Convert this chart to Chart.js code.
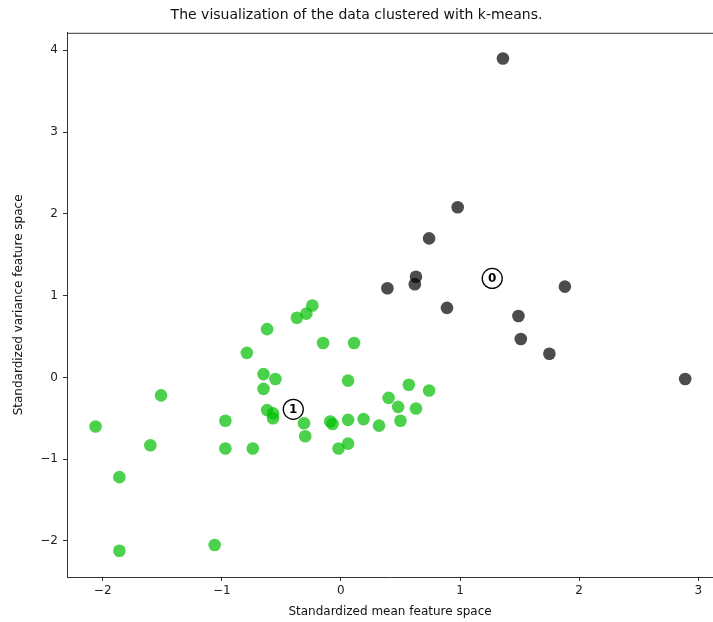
<!DOCTYPE html>
<html>
<head>
<meta charset="utf-8">
<script src="https://cdn.jsdelivr.net/npm/chart.js@4.4.1/dist/chart.umd.min.js"></script>
<style>
  html, body { margin: 0; padding: 0; background: #fff; overflow: hidden; }
  #wrap { width: 713px; height: 622px; }
</style>
</head>
<body>
<div id="wrap"><canvas id="myChart"></canvas></div>
<script>
// cluster 1 (green)
const greenX = [-2.06, -1.86, -1.86, -1.60, -1.51, -1.06, -0.97, -0.97, -0.74, -0.79,
                -0.62, -0.65, -0.65, -0.55, -0.62, -0.57, -0.57, -0.37, -0.29, -0.24,
                -0.15, 0.11, -0.31, -0.30, -0.09, -0.07, 0.06, 0.06, -0.02, 0.06,
                0.19, 0.32, 0.40, 0.57, 0.74, 0.48, 0.63, 0.50];
const greenY = [-0.60, -1.22, -2.12, -0.83, -0.22, -2.05, -0.53, -0.87, -0.87, 0.30,
                0.59, 0.04, -0.14, -0.02, -0.40, -0.44, -0.50, 0.73, 0.78, 0.88,
                0.42, 0.42, -0.56, -0.72, -0.54, -0.57, -0.04, -0.52, -0.87, -0.81,
                -0.51, -0.59, -0.25, -0.09, -0.16, -0.36, -0.38, -0.53];

// cluster 0 (dark)
const darkX = [1.36, 0.98, 0.74, 0.63, 0.62, 0.39, 0.89, 1.88, 1.49, 1.51, 1.75, 2.89];
const darkY = [3.90, 2.08, 1.70, 1.23, 1.14, 1.09, 0.85, 1.11, 0.75, 0.47, 0.29, -0.02];

// cluster centers
const centerX = [1.27, -0.40];
const centerY = [1.21, -0.39];
const centerLabels = ["0", "1"];

const xTicks = [-2, -1, 0, 1, 2, 3];
const yTicks = [-2, -1, 0, 1, 2, 3, 4];

const toPoints = (xs, ys) => xs.map((x, i) => ({ x: x, y: ys[i] }));
const minus = v => String(v).replace("-", "\u2212");
const noPad = s => { s.paddingLeft = 0; s.paddingRight = 0; s.paddingTop = 0; s.paddingBottom = 0; };

Chart.defaults.font.family = "'DejaVu Sans', sans-serif";
Chart.defaults.color = "#222";

// top spine + numbers inside the center markers
const framePlugin = {
    id: "frame",
    afterDraw(chart) {
        const a = chart.chartArea;
        const c = chart.ctx;
        c.save();
        c.strokeStyle = "#333";
        c.lineWidth = 1;
        c.beginPath();
        c.moveTo(a.left, a.top + 0.5);
        c.lineTo(a.right, a.top + 0.5);
        c.stroke();
        c.restore();
    },
    afterDatasetsDraw(chart) {
        const meta = chart.getDatasetMeta(2);
        const c = chart.ctx;
        c.save();
        c.fillStyle = "#000";
        c.font = "bold 12px 'DejaVu Sans'";
        c.textAlign = "center";
        c.textBaseline = "middle";
        meta.data.forEach((pt, i) => {
            c.fillText(centerLabels[i], pt.x, pt.y + 0.5);
        });
        c.restore();
    }
};

const ctx = document.getElementById("myChart").getContext("2d");
new Chart(ctx, {
    type: "scatter",
    data: {
        datasets: [
            {
                label: "cluster 0",
                data: toPoints(darkX, darkY),
                backgroundColor: "rgba(0, 0, 0, 0.7)",
                borderWidth: 0,
                pointRadius: 6.3,
                pointHoverRadius: 6.3
            },
            {
                label: "cluster 1",
                data: toPoints(greenX, greenY),
                backgroundColor: "rgba(0, 190, 0, 0.7)",
                borderWidth: 0,
                pointRadius: 6.3,
                pointHoverRadius: 6.3
            },
            {
                label: "centers",
                data: toPoints(centerX, centerY),
                backgroundColor: "#fff",
                borderColor: "#000",
                borderWidth: 1.3,
                pointRadius: 10,
                pointHoverRadius: 10
            }
        ]
    },
    options: {
        responsive: true,
        maintainAspectRatio: false,
        animation: false,
        events: [],
        layout: { padding: 0, autoPadding: false },
        plugins: {
            legend: { display: false },
            tooltip: { enabled: false },
            title: {
                display: true,
                text: "The visualization of the data clustered with k-means.",
                color: "#111",
                font: { size: 14, weight: "normal" },
                padding: { top: 7, bottom: 9 }
            }
        },
        scales: {
            x: {
                type: "linear",
                min: -2.2997,
                max: 3.1234,
                afterBuildTicks: s => { s.ticks = xTicks.map(v => ({ value: v })); },
                afterFit: s => { s.height = 45; noPad(s); },
                ticks: {
                    color: "#222",
                    font: { size: 12 },
                    padding: 3,
                    maxRotation: 0,
                    callback: v => minus(v)
                },
                grid: { drawOnChartArea: false, tickLength: 4, color: "#333" },
                border: { color: "#333" },
                title: {
                    display: true,
                    text: "Standardized mean feature space",
                    color: "#111",
                    font: { size: 12 },
                    padding: { top: 4, bottom: 3 }
                }
            },
            y: {
                type: "linear",
                min: -2.441,
                max: 4.214,
                afterBuildTicks: s => { s.ticks = yTicks.map(v => ({ value: v })); },
                afterFit: s => { s.width = 67; noPad(s); },
                ticks: {
                    color: "#222",
                    font: { size: 12 },
                    padding: 5,
                    callback: v => minus(v)
                },
                grid: { drawOnChartArea: false, tickLength: 4, color: "#333" },
                border: { color: "#333" },
                title: {
                    display: true,
                    text: "Standardized variance feature space",
                    color: "#111",
                    font: { size: 12 },
                    padding: { top: 12, bottom: 0 }
                }
            }
        }
    },
    plugins: [framePlugin]
});
</script>
</body>
</html>
